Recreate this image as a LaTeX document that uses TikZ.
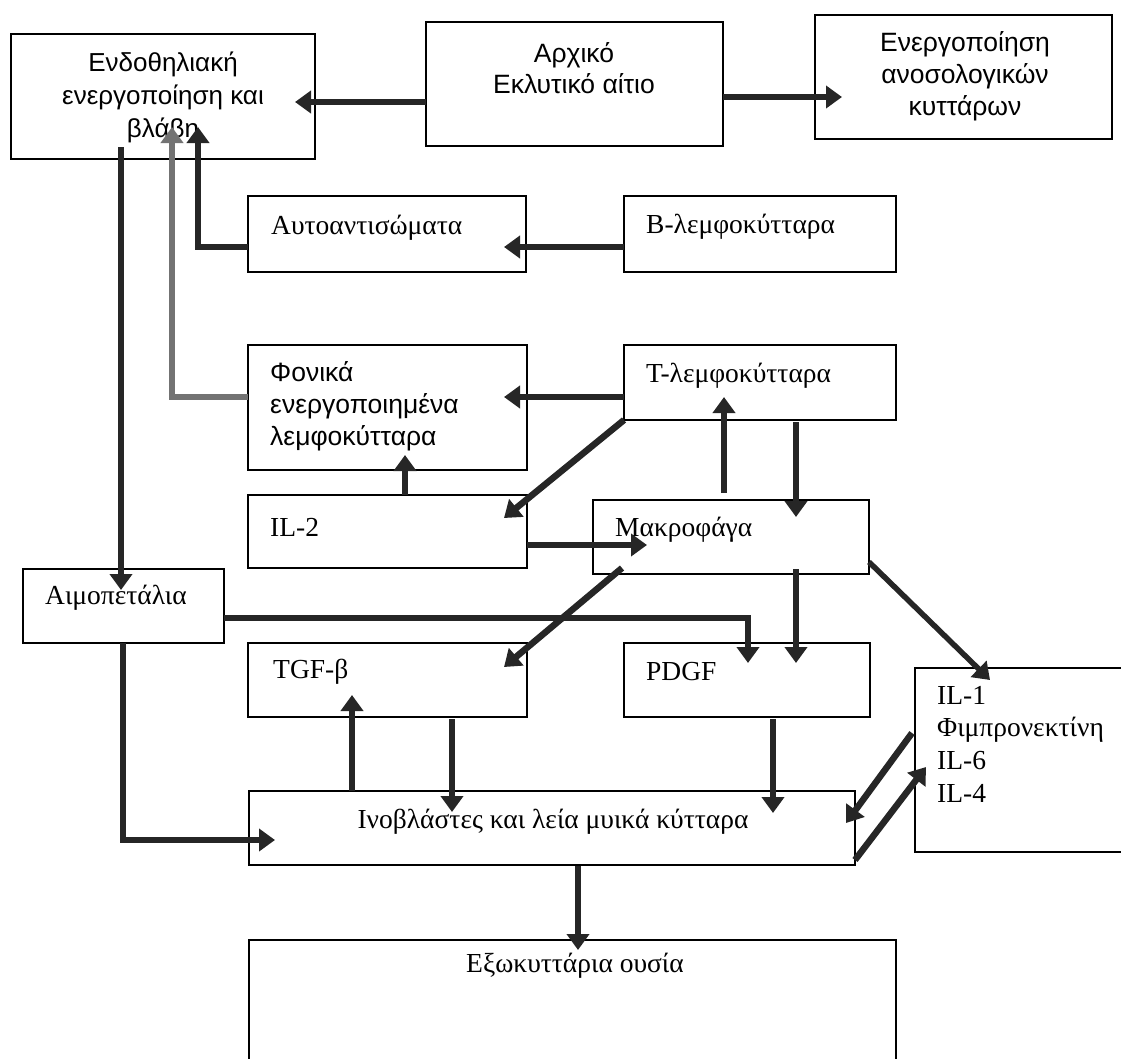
\documentclass[tikz,border=0pt]{standalone}
\usepackage{fontspec}
\setmainfont{Liberation Serif}
\newfontfamily\sansgr{Liberation Sans}
\usetikzlibrary{arrows.meta}
\tikzset{
  box/.style={draw=black, line width=1.8pt, rectangle, inner sep=0pt, outer sep=0pt, anchor=north west},
  arr/.style={draw=black!85, line width=6.5pt, -{Triangle[length=16pt,width=22pt]}},
  garr/.style={arr, draw=black!55},
  stxt/.style={font=\sansgr\fontsize{26.5}{31}\selectfont, inner sep=0pt},
  rtxt/.style={font=\fontsize{27.5}{31}\selectfont, inner sep=0pt, anchor=west},
}
\begin{document}
\begin{tikzpicture}[x=1pt,y=-1pt]
\useasboundingbox (0,0) rectangle (1121,1058);
% boxes
\node[box, minimum width=304pt, minimum height=125pt] (endo) at (11,34) {};
\node[box, minimum width=297pt, minimum height=124pt] (arx) at (426,22) {};
\node[box, minimum width=297pt, minimum height=124pt] (energ) at (815,15) {};
\node[box, minimum width=278pt, minimum height=76pt] (auto) at (248,196) {};
\node[box, minimum width=272pt, minimum height=76pt] (blem) at (624,196) {};
\node[box, minimum width=279pt, minimum height=125pt] (fon) at (248,345) {};
\node[box, minimum width=272pt, minimum height=75pt] (tlem) at (624,345) {};
\node[box, minimum width=279pt, minimum height=73pt] (il2) at (248,495) {};
\node[box, minimum width=276pt, minimum height=74pt] (makro) at (593,500) {};
\node[box, minimum width=201pt, minimum height=74pt] (aimo) at (23,569) {};
\node[box, minimum width=279pt, minimum height=74pt] (tgf) at (248,643) {};
\node[box, minimum width=246pt, minimum height=74pt] (pdgf) at (624,643) {};
\node[box, minimum width=240pt, minimum height=184pt] (il1) at (915,668) {};
\node[box, minimum width=606pt, minimum height=74pt] (inob) at (249,791) {};
\node[box, minimum width=647pt, minimum height=150pt] (exo) at (249,940) {};
% texts
\node[stxt, align=center, font=\sansgr\fontsize{26}{33}\selectfont] (tendo) at (163,97) {Ενδοθηλιακή\\ενεργοποίηση και\\βλάβη};
\node[stxt, align=center, font=\sansgr\fontsize{26.5}{31}\selectfont] (tarx) at (574,68) {Αρχικό\\Εκλυτικό αίτιο};
\node[stxt, align=center, font=\sansgr\fontsize{26.5}{32}\selectfont] (tenerg) at (965,76) {Ενεργοποίηση\\ανοσολογικών\\κυττάρων};
\node[rtxt] (tauto) at (271,228) {Αυτοαντισώματα};
\node[rtxt] (tblem) at (646,227) {Β-λεμφοκύτταρα};
\node[stxt, align=left, anchor=west, font=\sansgr\fontsize{26.5}{32}\selectfont] (tfon) at (270,406) {Φονικά\\ενεργοποιημένα\\λεμφοκύτταρα};
\node[rtxt] (ttlem) at (646,376) {Τ-λεμφοκύτταρα};
\node[rtxt] (til2) at (270,527) {IL-2};
\node[rtxt] (tmakro) at (615,530) {Μακροφάγα};
\node[rtxt] (taimo) at (45,598) {Αιμοπετάλια};
\node[rtxt] (ttgf) at (273,672) {TGF-β};
\node[rtxt] (tpdgf) at (646,672) {PDGF};
\node[rtxt, align=left, font=\fontsize{27.5}{32.7}\selectfont] (til1) at (937,744) {IL-1\\Φιμπρονεκτίνη\\IL-6\\IL-4};
\node[rtxt, anchor=center] (tinob) at (553,822) {Ινοβλάστες και λεία μυικά κύτταρα};
\node[rtxt, anchor=center] (texo) at (575,966) {Εξωκυττάρια ουσία};
% connectors
\draw[arr] (arx.west |- 0,102) -- (295,102);
\draw[arr] (arx.east |- 0,97) -- (842,97);
\draw[arr] (blem.west |- 0,247) -- (504,247);
\draw[arr] (auto.west |- 0,247) -- (198,247) -- (198,127);
\draw[garr] (fon.west |- 0,397) -- (172,397) -- (172,127);
\draw[arr] (121,147) -- (121,590);
\draw[arr] (tlem.west |- 0,397) -- (504,397);
\draw[arr] (405,495) -- (405,455);
\draw[arr] (tlem.south west) -- (504,518);
\draw[arr] (il2.east |- 0,545) -- (647,545);
\draw[arr] (724,493) -- (724,397);
\draw[arr] (796,422) -- (796,517);
\draw[arr] (622,568) -- (504,667);
\draw[arr] (796,569) -- (796,663);
\draw[arr, line width=5.5pt] (makro.east |- 0,562) -- (990,680);
\draw[arr] (aimo.east |- 0,618) -- (748,618) -- (748,663);
\draw[arr] (352,791) -- (352,695);
\draw[arr] (452,719) -- (452,812);
\draw[arr] (773,719) -- (773,813);
\draw[arr] (123,643) -- (123,840) -- (275,840);
\draw[arr] (912,733) -- (846,823);
\draw[arr] (855,860) -- (926,767);
\draw[arr] (578,866) -- (578,950);
\end{tikzpicture}
\end{document}
